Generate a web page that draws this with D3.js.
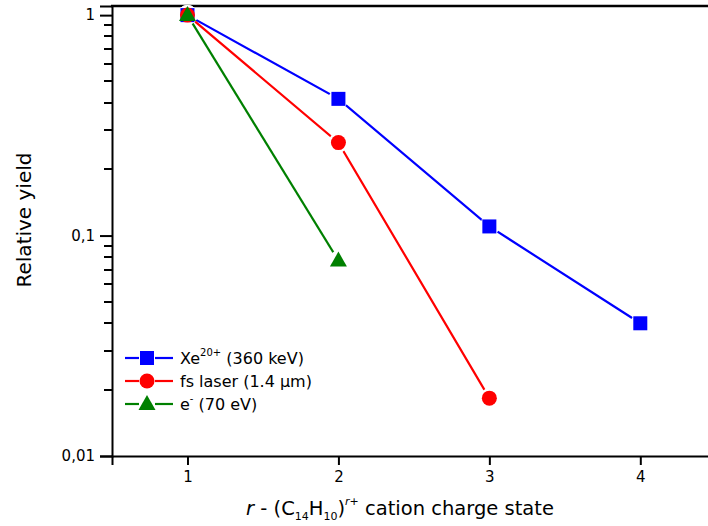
<!DOCTYPE html>
<html><head><meta charset="utf-8">
<script src="https://cdn.jsdelivr.net/npm/d3@7"></script>
<style>body{margin:0;background:#fff}svg{display:block}text{font-family:"DejaVu Sans",sans-serif}</style>
</head><body><svg id="c" width="708" height="526"></svg>
<script>
const charge = [1, 2, 3, 4];
const xeVals = [1, 0.417, 0.11, 0.04];
const laserVals = [1, 0.264, 0.0183];
const elecVals = [1, 0.077];
const xTicks = [1, 2, 3, 4];
const yTicks = [1, 0.1, 0.01];
const yTickLabels = ["1", "0,1", "0,01"];
const yMinor = [0.02, 0.03, 0.04, 0.05, 0.06, 0.07, 0.08, 0.09, 0.2, 0.3, 0.4, 0.5, 0.6, 0.7, 0.8, 0.9];

const svg = d3.select("#c");
const L = 112, R = 712, T = 6, B = 456;
const x = d3.scaleLinear().domain([0.5, 4.475]).range([L, R]);
const y = d3.scaleLog().domain([0.01, 1.1]).range([B, T]);

const minorPath = yMinor.map(v => `M${L - 8},${Math.round(y(v))}H${L}`).join("");
svg.append("path").attr("d", minorPath).attr("stroke", "#000").attr("stroke-width", 2).attr("fill", "none");

const yAxis = svg.append("g").attr("transform", `translate(${L},0)`)
  .call(d3.axisLeft(y).tickValues(yTicks).tickSize(12).tickPadding(5)
    .tickFormat((d, i) => yTickLabels[i]));
yAxis.select(".domain").attr("stroke-width", 2);
yAxis.selectAll(".tick line").attr("stroke-width", 2);
yAxis.selectAll("text").attr("font-size", 15).attr("fill", "#000");

const xAxis = svg.append("g").attr("transform", `translate(0,${B})`)
  .call(d3.axisBottom(x).tickValues(xTicks).tickSize(9).tickPadding(6).tickFormat(d3.format("d")));
xAxis.select(".domain").attr("stroke-width", 2);
xAxis.selectAll(".tick line").attr("stroke-width", 2);
xAxis.selectAll("text").attr("font-size", 15).attr("fill", "#000");

svg.append("line").attr("x1", L - 1).attr("x2", 708).attr("y1", T).attr("y2", T)
  .attr("stroke", "#000").attr("stroke-width", 2.5);

const series = [
  {name: "xe", vals: xeVals, color: "#0000ff", shape: "square"},
  {name: "laser", vals: laserVals, color: "#ff0000", shape: "circle"},
  {name: "e", vals: elecVals, color: "#008000", shape: "triangle"}
];
const line = d3.line().x((d, i) => x(charge[i])).y(d => y(d));
function marker(g, shape, color, cx, cy) {
  if (shape === "square") g.append("rect").attr("x", cx - 7).attr("y", cy - 7).attr("width", 14).attr("height", 14).attr("fill", color);
  else if (shape === "circle") g.append("circle").attr("cx", cx).attr("cy", cy).attr("r", 7.5).attr("fill", color);
  else g.append("path").attr("d", `M${cx},${cy-9}L${cx+8.5},${cy+6}L${cx-8.5},${cy+6}Z`).attr("fill", color);
}
function halo(g, cx, cy) {
  g.append("circle").attr("cx", cx).attr("cy", cy).attr("r", 10).attr("fill", "#fff");
}
series.forEach(s => {
  const g = svg.append("g");
  g.append("path").datum(s.vals).attr("d", line).attr("fill", "none").attr("stroke", s.color).attr("stroke-width", 2.2);
  s.vals.forEach((v, i) => halo(g, x(charge[i]), y(v)));
});
series.forEach(s => {
  const g = svg.append("g");
  s.vals.forEach((v, i) => marker(g, s.shape, s.color, x(charge[i]), y(v)));
});

// legend
const leg = svg.append("g");
const legY = [358, 381, 404];
series.forEach((s, i) => {
  const yy = legY[i];
  leg.append("line").attr("x1", 125).attr("x2", 139).attr("y1", yy).attr("y2", yy).attr("stroke", s.color).attr("stroke-width", 2.2);
  leg.append("line").attr("x1", 155).attr("x2", 173).attr("y1", yy).attr("y2", yy).attr("stroke", s.color).attr("stroke-width", 2.2);
  marker(leg, s.shape, s.color, 147, yy);
});
const lt = leg.append("g").attr("font-size", 16).attr("fill", "#000");
const t1 = lt.append("text").attr("x", 180).attr("y", legY[0] + 6);
t1.append("tspan").text("Xe");
t1.append("tspan").attr("font-size", 10).attr("dy", -8).text("20+");
t1.append("tspan").attr("dy", 8).text(" (360 keV)");
lt.append("text").attr("x", 180).attr("y", legY[1] + 6).text("fs laser (1.4 μm)");
const t3 = lt.append("text").attr("x", 180).attr("y", legY[2] + 6);
t3.append("tspan").text("e");
t3.append("tspan").attr("font-size", 10).attr("dy", -8).text("-");
t3.append("tspan").attr("dy", 8).text(" (70 eV)");

// axis titles
svg.append("text").attr("transform", "translate(31,220) rotate(-90)").attr("text-anchor", "middle")
  .attr("font-size", 20).text("Relative yield");
const xt = svg.append("text").attr("x", 400).attr("y", 515).attr("text-anchor", "middle").attr("font-size", 19.5);
xt.append("tspan").attr("font-style", "italic").text("r");
xt.append("tspan").text(" - (C");
xt.append("tspan").attr("font-size", 11).attr("dy", 5).text("14");
xt.append("tspan").attr("dy", -5).text("H");
xt.append("tspan").attr("font-size", 11).attr("dy", 5).text("10");
xt.append("tspan").attr("dy", -5).text(")");
xt.append("tspan").attr("font-size", 11).attr("dy", -10).attr("font-style", "italic").text("r+");
xt.append("tspan").attr("dy", 10).text(" cation charge state");
</script></body></html>
